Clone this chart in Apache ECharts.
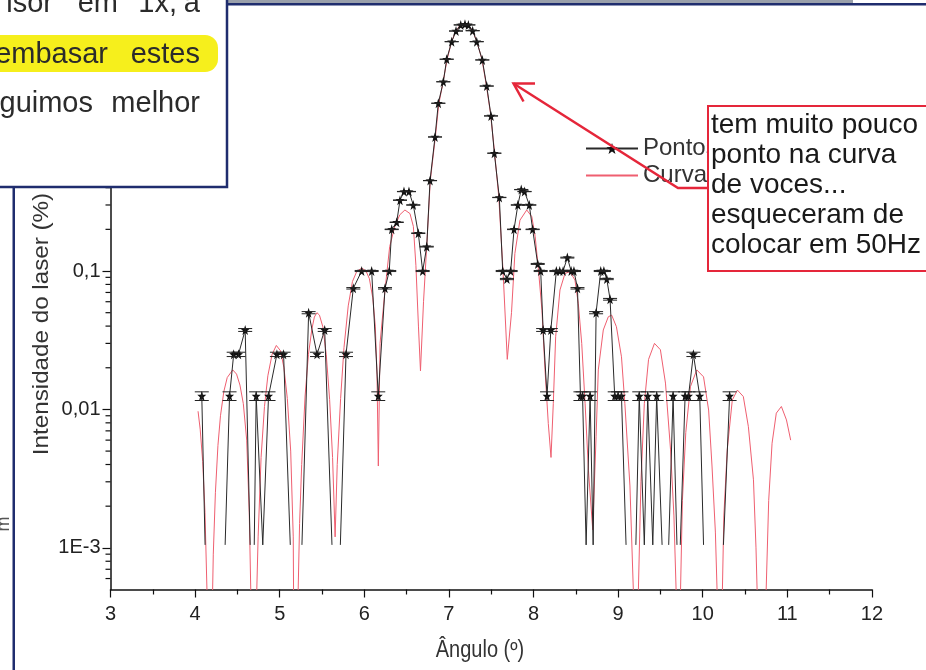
<!DOCTYPE html>
<html><head><meta charset="utf-8">
<script src="https://cdn.jsdelivr.net/npm/echarts@6/dist/echarts.min.js"></script>
<style>html,body{margin:0;padding:0;background:#fff;overflow:hidden}#c{width:926px;height:670px}</style>
</head><body><div id="c"></div>
<script>
// ---- data ----
// measured points [angle (deg), intensity (%)]; 0 = zero reading
const pontos = [
[4.079,0.0125],[4.118,0],[4.355,0],[4.407,0.0125],[4.456,0.025],[4.513,0.025],[4.592,0.0375],[4.651,0],[4.699,0],[4.722,0.0125],
[4.80,0],[4.868,0.0125],[4.967,0.025],[5.046,0.025],[5.125,0],[5.263,0],[5.342,0.05],[5.441,0.025],[5.532,0.0375],[5.618,0],
[5.717,0],[5.784,0.025],[5.870,0.075],[5.969,0.1],[6.087,0.1],[6.165,0.0125],[6.245,0.075],[6.295,0.1],[6.324,0.2],[6.383,0.225],
[6.422,0.325],[6.469,0.375],[6.528,0.375],[6.579,0.3],[6.638,0.1875],[6.690,0.1],[6.738,0.15],[6.777,0.45],[6.836,0.93],[6.875,1.63],
[6.934,2.33],[6.974,3.39],[7.033,4.54],[7.084,5.42],[7.140,6.0],[7.190,6.06],[7.230,6.0],[7.281,5.45],[7.329,4.54],[7.395,3.35],
[7.447,2.17],[7.498,1.32],[7.537,0.71],[7.596,0.34],[7.636,0.1],[7.686,0.0875],[7.730,0.1],[7.770,0.2],[7.815,0.3],[7.855,0.3875],
[7.894,0.375],[7.950,0.3],[7.990,0.2],[8.050,0.1125],[8.085,0.1],[8.114,0.0375],[8.160,0.0125],[8.205,0.0375],[8.270,0.1],[8.310,0.1],
[8.350,0.1],[8.400,0.125],[8.445,0.1],[8.478,0.1],[8.520,0.075],[8.555,0.0125],[8.580,0.0125],[8.622,0],[8.669,0.0125],[8.705,0],
[8.740,0.05],[8.795,0.1],[8.832,0.1],[8.866,0.0875],[8.905,0.0625],[8.960,0.0125],[9.000,0.0125],[9.040,0.0125],[9.094,0],[9.210,0],
[9.250,0.0125],[9.310,0],[9.350,0.0125],[9.410,0],[9.456,0.0125],[9.520,0],[9.598,0],[9.650,0.0125],[9.696,0],[9.735,0],
[9.792,0.0125],[9.832,0.0125],[9.890,0.025],[9.965,0.0125],[10.010,0],[10.245,0],[10.318,0.0125]
];
// theoretical curve [angle, intensity]; 0 = zero of the curve
const curva = [
[4.035,0.0097],[4.06,0.0072],[4.09,0.0042],[4.117,0.0018],[4.14,0.0005],[4.165,0],
[4.195,0.0002],[4.215,0.0009],[4.24,0.0025],[4.27,0.0055],[4.30,0.0090],[4.34,0.0135],[4.38,0.0170],[4.445,0.0193],[4.49,0.0180],[4.53,0.0150],[4.57,0.0110],[4.61,0.0060],[4.64,0.0018],[4.665,0.0003],[4.69,0],
[4.72,0.0003],[4.745,0.0012],[4.78,0.0045],[4.82,0.0105],[4.86,0.0175],[4.91,0.0250],[4.96,0.0290],[5.01,0.0265],[5.05,0.0200],[5.09,0.0120],[5.13,0.0050],[5.16,0.0012],[5.19,0],
[5.215,0.0004],[5.235,0.0015],[5.26,0.0040],[5.30,0.0125],[5.34,0.0250],[5.38,0.0380],[5.41,0.0465],[5.44,0.0500],[5.47,0.0480],[5.51,0.0395],[5.55,0.0250],[5.59,0.0118],[5.625,0.0045],[5.655,0.0012],
[5.68,0.0040],[5.72,0.0120],[5.76,0.0280],[5.81,0.0560],[5.86,0.0840],[5.91,0.0990],[5.97,0.1050],[6.02,0.1000],[6.06,0.0880],[6.10,0.0640],[6.13,0.0400],[6.15,0.0180],[6.166,0.0039],
[6.186,0.0300],[6.245,0.0730],[6.30,0.1500],[6.36,0.2100],[6.42,0.2550],[6.48,0.2760],[6.54,0.2600],[6.58,0.2100],[6.61,0.1100],[6.64,0.0400],[6.664,0.0190],
[6.70,0.060],[6.74,0.160],[6.78,0.450],[6.84,0.930],[6.88,1.600],[6.93,2.300],[6.98,3.400],[7.03,4.500],[7.08,5.400],[7.13,5.950],[7.18,6.100],[7.23,5.950],[7.28,5.450],[7.33,4.550],[7.39,3.400],[7.44,2.250],[7.49,1.400],[7.54,0.720],[7.59,0.340],[7.64,0.100],[7.69,0.023],
[7.74,0.050],[7.78,0.134],[7.84,0.233],[7.92,0.276],[7.98,0.247],[8.02,0.177],[8.06,0.100],[8.10,0.052],[8.136,0.0193],[8.175,0.0079],[8.207,0.0045],
[8.234,0.0110],[8.262,0.0335],[8.313,0.0730],[8.372,0.0960],[8.43,0.0990],[8.49,0.0860],[8.53,0.0580],[8.57,0.0300],[8.61,0.0110],[8.65,0.0036],[8.70,0.00135],
[8.74,0.0064],[8.766,0.0193],[8.825,0.0375],[8.884,0.0467],[8.924,0.0480],[8.98,0.0396],[9.04,0.0240],[9.08,0.0110],[9.14,0.0028],[9.18,0.0005],[9.21,0],
[9.24,0.0005],[9.27,0.0030],[9.31,0.0110],[9.36,0.0230],[9.43,0.0300],[9.50,0.0270],[9.56,0.0155],[9.62,0.0051],[9.66,0.0017],[9.69,0.0004],[9.71,0],
[9.735,0.0004],[9.76,0.0022],[9.80,0.0068],[9.855,0.0146],[9.93,0.0193],[10.01,0.0172],[10.07,0.0099],[10.11,0.0039],[10.15,0.0013],[10.18,0.0003],[10.205,0],
[10.23,0.0004],[10.25,0.0017],[10.29,0.0051],[10.35,0.0117],[10.41,0.0138],[10.48,0.0124],[10.54,0.0075],[10.60,0.0031],[10.63,0.0010],[10.66,0.0002],[10.70,0],
[10.74,0.0003],[10.78,0.0022],[10.82,0.0057],[10.87,0.0094],[10.93,0.0105],[10.99,0.0084],[11.04,0.0060]
];
const erroPontos = 0.0009;          // error bar half-height (%)
const xTicks = [3,4,5,6,7,8,9,10,11,12];
const xTickLabels = ['3','4','5','6','7','8','9','10','11','12'];
const yTickValues = [0.001,0.01,0.1,1,10];
const yTickLabels = ['1E-3','0,01','0,1','1','10'];
const yMinorTicks = [0.0006,0.0007,0.0008,0.0009,
  0.002,0.003,0.004,0.005,0.006,0.007,0.008,0.009,
  0.02,0.03,0.04,0.05,0.06,0.07,0.08,0.09,
  0.2,0.3,0.4,0.5,0.6,0.7,0.8,0.9,
  2,3,4,5,6,7,8,9];
const yMin = 0.0005, yMax = 10;

// ---- build ----
const FONT = '"Liberation Sans", Arial, sans-serif';
const PISO = 0.00105;      // where zero readings are drawn (clipped floor)
const CURVA_ZERO = 1e-6;
const pontosData = [];
let prevZero = false;
pontos.forEach(([x, y]) => {
  if (y === 0) {
    if (prevZero) pontosData.push([x, null]);
    pontosData.push({ value: [x, PISO], symbol: 'none' });
    prevZero = true;
  } else { pontosData.push([x, y]); prevZero = false; }
});
const erroData = pontos.filter(p => p[1] > 0);
const curvaData = curva.map(([x, y]) => [x, y === 0 ? CURVA_ZERO : y]);
const minorData = yMinorTicks.map(v => [xTicks[0], v]);
const star = 'path://M0,-100L23.5,-32.4L95.1,-30.9L38,12.4L58.8,80.9L0,40L-58.8,80.9L-38,12.4L-95.1,-30.9L-23.5,-32.4Z';
const NAVY = '#1f2d6e', RED = '#e5263a';

function txt(x, y, text, size, align, color, extra) {
  return Object.assign({ type: 'text', x: x, y: y, z: 100,
    style: { text: text, font: size + 'px ' + FONT, fill: color || '#2b2b2b', textAlign: align || 'left', textVerticalAlign: 'middle', verticalAlign: 'middle' } }, extra || {});
}

const chart = echarts.init(document.getElementById('c'), null, { renderer: 'canvas' });
chart.setOption({
  animation: false,
  backgroundColor: '#fff',
  grid: { left: 110.5, right: 54.1, top: -5.8, bottom: 80.5, containLabel: false, outerBoundsMode: 'none' },
  legend: {
    data: [{ name: 'Pontos' }, { name: 'Curva', itemStyle: { color: 'rgba(0,0,0,0)', borderWidth: 0 } }],
    orient: 'vertical', left: 580, top: 130,
    itemWidth: 52, itemHeight: 14, itemGap: 0, selectedMode: false,
    textStyle: { fontFamily: FONT, fontSize: 24, color: '#333', lineHeight: 27 }
  },
  xAxis: {
    type: 'value', min: 3, max: 12, interval: 1,
    axisLine: { show: true, onZero: false, lineStyle: { color: '#111', width: 1.5 } },
    axisTick: { show: true, inside: false, length: 8, lineStyle: { color: '#111', width: 1.2 } },
    minorTick: { show: true, splitNumber: 2, length: 5, lineStyle: { color: '#111', width: 1.2 } },
    splitLine: { show: false },
    axisLabel: { fontFamily: FONT, fontSize: 20, color: '#222', margin: 15,
      formatter: v => { const i = xTicks.indexOf(v); return i >= 0 ? xTickLabels[i] : ''; } }
  },
  yAxis: {
    type: 'log', logBase: 10, min: yMin, max: yMax,
    axisLine: { show: true, onZero: false, lineStyle: { color: '#111', width: 1.5 } },
    axisTick: { show: true, inside: false, length: 8, lineStyle: { color: '#111', width: 1.2 } },
    splitLine: { show: false },
    axisLabel: { fontFamily: FONT, fontSize: 20, color: '#222', margin: 10, showMinLabel: false, showMaxLabel: false,
      formatter: v => { for (let i = 0; i < yTickValues.length; i++) { if (Math.abs(Math.log10(v) - Math.log10(yTickValues[i])) < 1e-6) return yTickLabels[i]; } return ''; } }
  },
  series: [
    { name: 'Pontos', type: 'line', data: pontosData, z: 4, clip: true,
      symbol: star, symbolSize: [9, 10], showAllSymbol: true, connectNulls: false,
      itemStyle: { color: '#111' }, lineStyle: { color: '#2a2a2a', width: 1 } },
    { name: 'Curva', type: 'line', data: curvaData, z: 2, clip: true, symbol: 'none',
      itemStyle: { color: '#ef5f70' }, lineStyle: { color: '#ef5f70', width: 1 } },
    { name: 'erro', type: 'custom', data: erroData, z: 5, silent: true, encode: { x: 0, y: 1 },
      renderItem: (params, api) => {
        const x = api.value(0), v = api.value(1);
        const t = api.coord([x, v + erroPontos]), b = api.coord([x, v - erroPontos]);
        const h = 7, st = { stroke: '#222', lineWidth: 1 };
        return { type: 'group', children: [
          { type: 'line', shape: { x1: t[0], y1: t[1], x2: b[0], y2: b[1] }, style: st },
          { type: 'line', shape: { x1: t[0] - h, y1: t[1], x2: t[0] + h, y2: t[1] }, style: st },
          { type: 'line', shape: { x1: b[0] - h, y1: b[1], x2: b[0] + h, y2: b[1] }, style: st }
        ] };
      } },
    { name: 'minor', type: 'custom', data: minorData, z: 3, silent: true, encode: { x: 0, y: 1 },
      renderItem: (params, api) => {
        const p = api.coord([api.value(0), api.value(1)]);
        return { type: 'line', shape: { x1: p[0] - 5, y1: p[1], x2: p[0], y2: p[1] }, style: { stroke: '#111', lineWidth: 1.2 } };
      } }
  ],
  graphic: [
    // axis titles
    txt(42, 324, 'Intensidade do laser (%)', 22, 'center', '#333', { rotation: Math.PI / 2, scaleX: 1.1 }),
    txt(480, 651, 'Ângulo (º)', 20, 'center', '#333', { scaleY: 1.15 }),
    // document frame pieces
    { type: 'rect', z: 100, shape: { x: 228, y: 0, width: 625, height: 3 }, style: { fill: '#9aa0ab' } },
    { type: 'rect', z: 100, shape: { x: 226, y: 3, width: 702, height: 2.5 }, style: { fill: NAVY } },
    { type: 'rect', z: 100, shape: { x: 12.5, y: 186, width: 2.5, height: 486 }, style: { fill: NAVY } },
    txt(4, 524, 'm', 18, 'center', '#555', { rotation: Math.PI / 2 }),
    // overlay text box (top-left)
    { type: 'rect', z: 100, shape: { x: -5, y: -5, width: 232, height: 192 }, style: { fill: '#fff', stroke: NAVY, lineWidth: 2.5 } },
    { type: 'rect', z: 100, shape: { x: -12, y: 35, width: 230, height: 37, r: [0, 13, 13, 0] }, style: { fill: '#f6ef1c' } },
    txt(53, 4, 'isor', 29, 'right'), txt(118, 4, 'em', 29, 'right'), txt(177, 4, '1x,', 29, 'right'), txt(200, 4, 'a', 29, 'right'),
    txt(108, 55, 'embasar', 29, 'right'), txt(200, 55, 'estes', 29, 'right'),
    txt(93, 104, 'guimos', 29, 'right'), txt(200, 104, 'melhor', 29, 'right'),
    // callout
    { type: 'rect', z: 100, shape: { x: 708, y: 106, width: 232, height: 165 }, style: { fill: '#fff', stroke: RED, lineWidth: 2 } },
    txt(711, 125.5, 'tem muito pouco', 28, 'left', '#1a1a1a'),
    txt(711, 155.5, 'ponto na curva', 28, 'left', '#1a1a1a'),
    txt(711, 185.5, 'de voces...', 28, 'left', '#1a1a1a'),
    txt(711, 215.5, 'esqueceram de', 28, 'left', '#1a1a1a'),
    txt(711, 245.5, 'colocar em 50Hz', 28, 'left', '#1a1a1a'),
    { type: 'polyline', z: 101, shape: { points: [[708, 188], [678, 188], [513.5, 83.5]] }, style: { stroke: RED, lineWidth: 2.5, fill: null } },
    { type: 'polyline', z: 101, shape: { points: [[535, 83.5], [513.5, 83.5], [523.5, 101.5]] }, style: { stroke: RED, lineWidth: 2.5, fill: null } }
  ]
});
</script>
</body></html>
